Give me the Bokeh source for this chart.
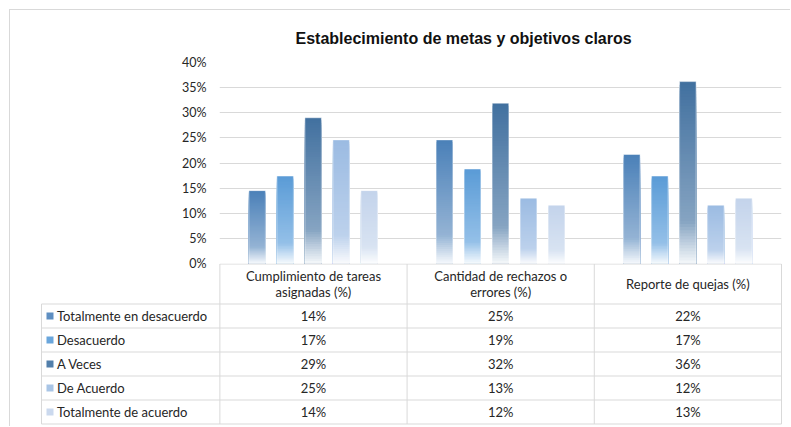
from bokeh.plotting import figure
from bokeh.models import Range1d, FixedTicker, NumeralTickFormatter, ColumnDataSource
from bokeh.embed import file_html
from bokeh.resources import INLINE
from bokeh.core.properties import value

# ---------------- data ----------------
title = "Establecimiento de metas y objetivos claros"
categories = ["Cumplimiento de tareas\nasignadas (%)",
              "Cantidad de rechazos o\nerrores (%)",
              "Reporte de quejas (%)"]
series = ["Totalmente en desacuerdo", "Desacuerdo", "A Veces",
          "De Acuerdo", "Totalmente de acuerdo"]
totalmente_en_desacuerdo = [14.5, 24.6, 21.7]
desacuerdo = [17.4, 18.8, 17.4]
a_veces = [29.0, 31.9, 36.2]
de_acuerdo = [24.6, 13.0, 11.6]
totalmente_de_acuerdo = [14.5, 11.6, 13.0]
y_ticks = [0, 0.05, 0.10, 0.15, 0.20, 0.25, 0.30, 0.35, 0.40]

values = [totalmente_en_desacuerdo, desacuerdo, a_veces, de_acuerdo,
          totalmente_de_acuerdo]

# ---------------- styles ----------------
top_colors = ["#4a80b8", "#5a9bd6", "#41709f", "#9bbbe2", "#c3d3eb"]
mid_colors = ["#94b3d4", "#94c0e8", "#86a4c2", "#bcd1ec", "#d8e3f2"]
swatch_colors = ["#5f8fc2", "#6aa6dc", "#527fab", "#a9c5e6", "#cbd9ee"]
GRID = "#d9d9d9"
FRAME = "#d9d9d9"
FONT = "Lato"
TEXT = "#262626"


def hex2rgb(h):
    h = h.lstrip("#")
    return [int(h[i:i + 2], 16) for i in (0, 2, 4)]


def mix(c1, c2, t):
    a, b = hex2rgb(c1), hex2rgb(c2)
    return "#%02x%02x%02x" % tuple(round(a[i] + (b[i] - a[i]) * t) for i in range(3))


def grad_color(k, t):
    """t = 0 at the bar base, 1 at its top."""
    base = mix(mid_colors[k], "#ffffff", 0.92)
    split = 0.23
    if t < split:
        return mix(base, mid_colors[k], t / split)
    return mix(mid_colors[k], top_colors[k], (t - split) / (1 - split))


# ---------------- chart ----------------
p1 = figure(width=781, height=262, x_range=Range1d(0.5, 3.5),
            y_range=Range1d(0, 0.4), output_backend="svg",
            toolbar_location=None, x_axis_location=None,
            min_border_left=209, min_border_right=10, min_border_top=52,
            min_border_bottom=9,
            styles={"margin-left": "9px", "margin-top": "9px",
                    "border-left": f"1px solid {FRAME}",
                    "border-top": f"1px solid {FRAME}"})
p1.outline_line_color = None
p1.xgrid.visible = False
p1.ygrid.grid_line_color = GRID
p1.ygrid.grid_line_width = 1
p1.yaxis.ticker = FixedTicker(ticks=y_ticks)
p1.yaxis.formatter = NumeralTickFormatter(format="0%")
p1.yaxis.axis_line_color = None
p1.yaxis.major_tick_line_color = None
p1.yaxis.minor_tick_line_color = None
p1.yaxis.major_tick_out = 0
p1.yaxis.minor_tick_out = 0
p1.yaxis.major_label_standoff = 13
p1.yaxis.major_label_text_font = FONT
p1.yaxis.major_label_text_font_size = "12.5px"
p1.yaxis.major_label_text_color = TEXT

p1.title.text = title
p1.title.text_font = "Liberation Sans"
p1.title.text_font_style = "bold"
p1.title.text_font_size = "16px"
p1.title.text_color = "#111111"
p1.title.align = "left"
p1.title.offset = 76
p1.title.standoff = 32

n_series = len(series)
step = 0.1495
bar_w = 0.088
N = 60
L, R, B, T, C = [], [], [], [], []
oL, oR, oT = [], [], []
for k in range(n_series):
    for i, v in enumerate(values[k]):
        xc = (i + 1) + (k - (n_series - 1) / 2) * step
        h = v / 100.0
        # nested slices: tallest first so each lower slice overlaps the rest
        for s in range(N - 1, -1, -1):
            L.append(xc - bar_w / 2)
            R.append(xc + bar_w / 2)
            B.append(0)
            T.append(h * (s + 1) / N)
            C.append(grad_color(k, (s + 0.5) / N))
        oL.append(xc - bar_w / 2)
        oR.append(xc + bar_w / 2)
        oT.append(h)

p1.quad(left="left", right="right", bottom="bottom", top="top",
        fill_color="color", line_color=None,
        source=ColumnDataSource(dict(left=L, right=R, bottom=B, top=T, color=C)))
p1.quad(left=oL, right=oR, bottom=[0] * len(oT), top=oT, fill_color=None,
        line_color="#ffffff", line_alpha=0.45, line_width=1)

# ---------------- data table ----------------
px_per_unit = 187.33
row_px = 24.0
x_start = 0.5 - 179.5 / px_per_unit
x_end = 0.5 + 563 / px_per_unit
left_edge = 0.5 - 178.5 / px_per_unit
header_h = 40 / row_px
n_rows = len(series)
bottom_y = header_h + n_rows
y_top = -0.5 / row_px
y_bottom = y_top + 163 / row_px

p2 = figure(width=781, height=163, x_range=Range1d(x_start, x_end),
            y_range=Range1d(y_bottom, y_top), output_backend="svg",
            toolbar_location=None, x_axis_location=None, y_axis_location=None,
            min_border_left=30, min_border_right=9, min_border_top=0,
            min_border_bottom=0,
            styles={"margin-left": "9px", "margin-top": "-8px",
                    "border-left": f"1px solid {FRAME}"})
p2.outline_line_color = None
p2.grid.visible = False
p2.background_fill_alpha = 0
p2.border_fill_alpha = 0

# table lines
x0s, y0s, x1s, y1s = [], [], [], []
x0s.append(0.5); x1s.append(3.5); y0s.append(0); y1s.append(0)
for r in range(n_rows + 1):
    y = header_h + r
    x0s.append(left_edge); x1s.append(3.5); y0s.append(y); y1s.append(y)
for xv in [0.5, 1.5, 2.5, 3.5]:
    x0s.append(xv); x1s.append(xv); y0s.append(0); y1s.append(bottom_y)
x0s.append(left_edge); x1s.append(left_edge); y0s.append(header_h); y1s.append(bottom_y)
p2.segment(x0=x0s, y0=y0s, x1=x1s, y1=y1s, line_color=GRID, line_width=1)

# header
p2.text(x=[1, 2, 3], y=[header_h / 2] * 3, text=categories,
        text_font=value(FONT), text_font_size="13px", text_color=TEXT,
        text_align="center", text_baseline="middle", text_line_height=0.95)

# legend rows
row_y = [header_h + r + 0.5 for r in range(n_rows)]
sw_x = 0.5 - 170 / px_per_unit
lab_x = 0.5 - 163 / px_per_unit
p2.rect(x=[sw_x] * n_rows, y=row_y, width=7, height=7, width_units="screen",
        height_units="screen", fill_color=swatch_colors, line_color=None)
p2.text(x=[lab_x] * n_rows, y=row_y, text=series, text_font=value(FONT),
        text_font_size="13px", text_color=TEXT, text_align="left",
        text_baseline="middle")

# values
vx, vy, vt = [], [], []
for k in range(n_rows):
    for i, v in enumerate(values[k]):
        vx.append(i + 1)
        vy.append(row_y[k])
        vt.append(f"{v:.0f}%")
p2.text(x=vx, y=vy, text=vt, text_font=value(FONT), text_font_size="13px",
        text_color=TEXT, text_align="center", text_baseline="middle")

open("out.html", "w").write(file_html([p1, p2], INLINE))
